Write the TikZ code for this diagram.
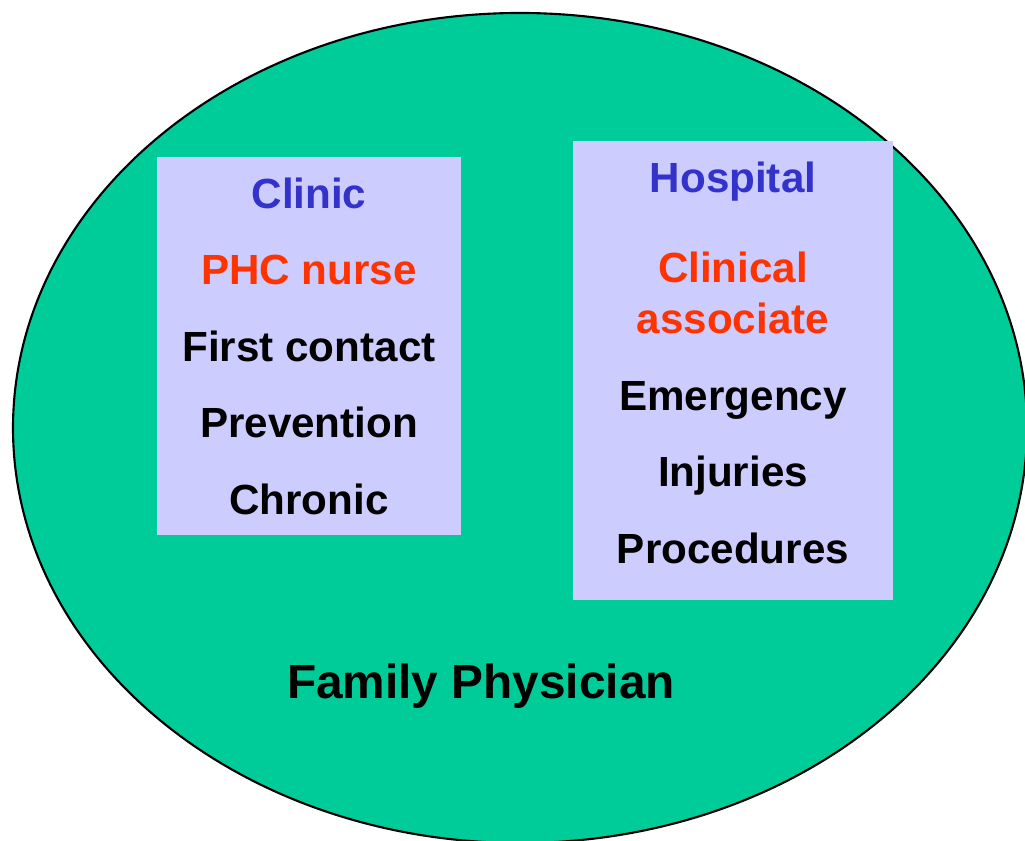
\documentclass[tikz,border=0pt]{standalone}
\usepackage{fontspec}
\setmainfont{Liberation Sans}
\usetikzlibrary{positioning}
\definecolor{fpgreen}{HTML}{00CC99}
\definecolor{boxlilac}{HTML}{CCCCFF}
\definecolor{headblue}{HTML}{3333CC}
\definecolor{staffred}{HTML}{FF3300}

\begin{document}
\begin{tikzpicture}[font=\bfseries\fontsize{12}{14.4}\selectfont,node distance=0.765cm,
	setting/.style={fill=boxlilac,inner sep=0pt},
	line/.style={text height=1.5ex,text depth=.25ex,inner sep=0pt}]
	\useasboundingbox (0,0) rectangle (10.25,8.41);
	\draw[fill=fpgreen,semithick] (5.20,4.13) ellipse (5.07 and 4.15);
	\node(cbox) [setting,minimum width=3.04cm,minimum height=3.78cm] at (3.09,4.95) {};
	\node(hbox) [setting,minimum width=3.20cm,minimum height=4.59cm] at (7.33,4.705) {};
	\node(clinic) [line,text=headblue] at (3.09,6.445) {Clinic};
	\node(nurse) [line,text=staffred,below of=clinic] {PHC nurse};
	\node(contact) [line,below of=nurse] {First contact};
	\node(prev) [line,below of=contact] {Prevention};
	\node(chronic) [line,below of=prev] {Chronic};
	\node(hosp) [line,text=headblue] at (7.33,6.60) {Hospital};
	\node(clin) [line,text=staffred,below of=hosp,node distance=0.90cm] {Clinical};
	\node(assoc) [line,text=staffred,below of=clin,node distance=0.51cm] {associate};
	\node(emerg) [line,below of=assoc] {Emergency};
	\node(inj) [line,below of=emerg] {Injuries};
	\node(proc) [line,below of=inj] {Procedures};
	\node(fp) [line,font=\bfseries\fontsize{13.6}{16}\selectfont] at (4.81,1.545) {Family Physician};
\end{tikzpicture}
\end{document}
